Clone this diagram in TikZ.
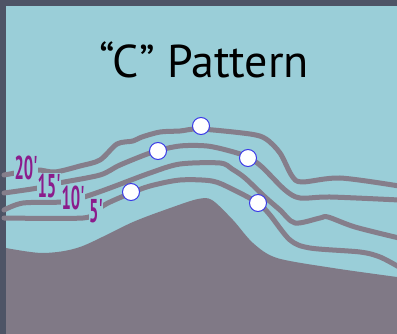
\documentclass[tikz,border=0pt]{standalone}
\usepackage{fontspec}
\setmainfont{PT Sans}
\newfontfamily\depthfont[Ligatures=TeXOff]{PT Sans}
\begin{document}
\definecolor{frame}{HTML}{4E5466}
\definecolor{water}{HTML}{9ACED8}
\definecolor{land}{HTML}{807986}
\definecolor{contour}{HTML}{857E8B}
\definecolor{depth}{HTML}{8B1C8C}
\definecolor{ring}{HTML}{3A3AE6}
\begin{tikzpicture}[x=1pt,y=-1pt,
  contourline/.style={draw=contour,line width=5pt,line cap=round,line join=round},
  depthlabel/.style={fill=water,text=depth,inner sep=1pt,text height=23pt,text depth=0pt,
    font=\depthfont\bfseries\fontsize{33}{33}\selectfont,xscale=0.5},
  spot/.style={circle,draw=ring,fill=white,line width=1pt,minimum size=17pt,inner sep=0pt}]
  \useasboundingbox (0,0) rectangle (397,334);
  % frame and water
  \fill[frame] (0,0) rectangle (397,334);
  \fill[water] (6,6) rectangle (397,334);
  % land mass
  \fill[land] plot[smooth,tension=0.5] coordinates {(6,248) (43,253) (80,247) (133,222) (173,207) (198,199) (212,200) (233,220) (253,243) (277,258) (333,268) (397,277)}
    -- (397,334) -- (6,334) -- cycle;
  % depth contours
  \draw[contourline] plot[smooth,tension=0.5] coordinates {(4,175) (36,170) (55,172) (80,166) (100,160) (117,144) (133,141) (142,137) (160,132) (180,131) (200,129) (250,134) (266,139) (280,153) (292,176) (302,182) (340,178) (399,186)};
  \draw[contourline] plot[smooth,tension=0.5] coordinates {(4,193) (38,188) (59,183) (100,175) (120,165) (153,152) (180,146) (207,146) (230,151) (248,157) (262,167) (285,190) (300,198) (330,197) (399,200)};
  \draw[contourline] plot[smooth,tension=0.5] coordinates {(4,210) (23,203) (61,202) (84,197) (110,188) (150,173) (180,164) (220,163) (232,169) (245,178) (265,197) (280,210) (295,223) (320,218) (328,217) (355,227) (399,238)};
  \draw[contourline] plot[smooth,tension=0.5] coordinates {(4,218) (83,218) (95,211) (108,203) (131,193) (150,186) (180,180) (212,181) (232,189) (258,203) (270,215) (290,240) (310,248) (360,252) (380,257) (399,267)};
  % depth labels
  \node[depthlabel] (d20) at (26,168) {20'};
  \node[depthlabel] (d15) at (49,186) {15'};
  \node[depthlabel] (d10) at (73,198) {10'};
  \node[depthlabel] (d5) at (96,211) {5'};
  % fish-holding spots
  \node[spot] (s1) at (201,126) {};
  \node[spot] (s2) at (158,151) {};
  \node[spot] (s3) at (248,158) {};
  \node[spot] (s4) at (131,192) {};
  \node[spot] (s5) at (258,203) {};
  % title
  \node[anchor=base,inner sep=0pt,font=\fontsize{46}{46}\selectfont] (title) at (204,78) {“C” Pattern};
\end{tikzpicture}
\end{document}
